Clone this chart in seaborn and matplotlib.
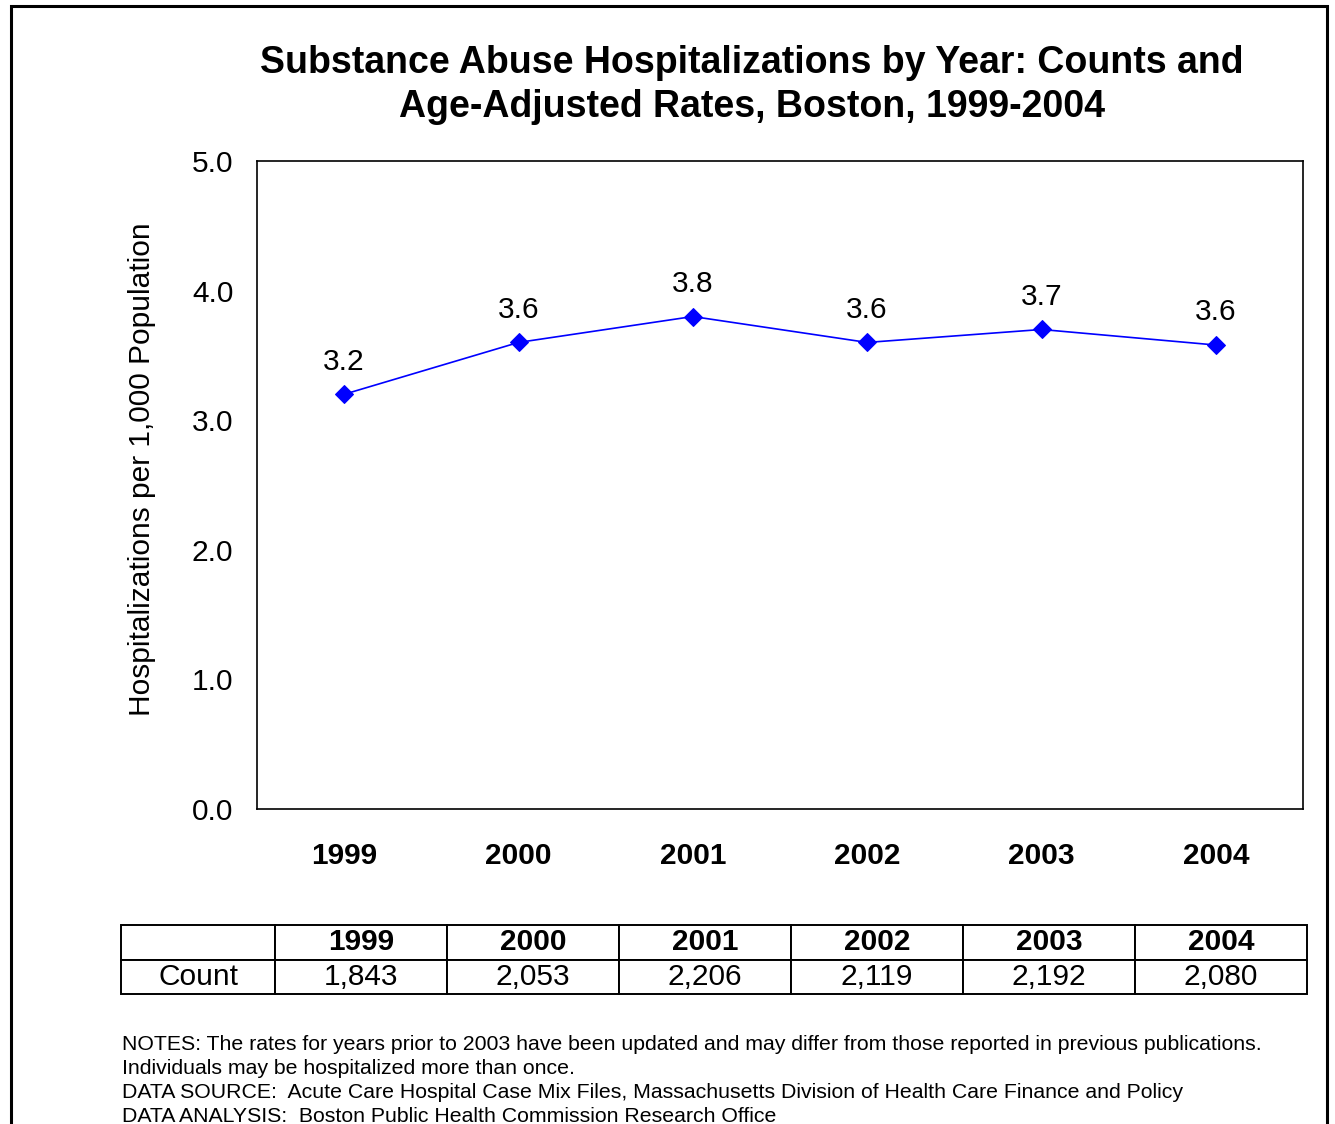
import numpy as np
import pandas as pd
import seaborn as sns
import matplotlib.pyplot as plt
from matplotlib.patches import Rectangle
from matplotlib.ticker import FixedLocator

years = ["1999", "2000", "2001", "2002", "2003", "2004"]
rates = [3.2, 3.6, 3.8, 3.6, 3.7, 3.58]
rate_labels = ["3.2", "3.6", "3.8", "3.6", "3.7", "3.6"]
counts = ["1,843", "2,053", "2,206", "2,119", "2,192", "2,080"]

title = ("Substance Abuse Hospitalizations by Year: Counts and\n"
         "Age-Adjusted Rates, Boston, 1999-2004")
notes = [
    "NOTES: The rates for years prior to 2003 have been updated and may differ from those reported in previous publications.",
    "Individuals may be hospitalized more than once.",
    "DATA SOURCE:  Acute Care Hospital Case Mix Files, Massachusetts Division of Health Care Finance and Policy",
    "DATA ANALYSIS:  Boston Public Health Commission Research Office",
]

sns.set_style("white")
plt.rcParams["font.family"] = ["Liberation Sans", "DejaVu Sans"]
plt.rcParams["text.color"] = "black"
plt.rcParams["axes.labelcolor"] = "black"

FS = 21.5

df = pd.DataFrame({"pos": np.arange(len(years)), "rate": rates})

fig = plt.figure(figsize=(13.35, 11.24), dpi=100)
fig.patch.set_facecolor("white")

# outer frame
fig.add_artist(Rectangle((11 / 1335, -0.05), (1327 - 11) / 1335, 1.05 - 6 / 1124,
                         transform=fig.transFigure, fill=False, edgecolor="black",
                         linewidth=2.2, clip_on=False))

ax = fig.add_axes([257 / 1335, 1 - 809 / 1124, (1303 - 257) / 1335, (809 - 161) / 1124])
sns.lineplot(data=df, x="pos", y="rate", ax=ax, color="#0000FF", linewidth=1.2,
             marker="D", markersize=9, markeredgecolor="#0000FF")

for i, (v, lab) in enumerate(zip(rates, rate_labels)):
    ax.annotate(lab, (i, v), xytext=(0, 23.5), textcoords="offset points",
                ha="center", va="center", fontsize=FS)

ax.set_xlim(-0.5, len(years) - 0.5)
ax.set_ylim(0, 5)
ax.set_yticks(np.arange(0, 5.01, 1))
ax.set_yticklabels([f"{t:.1f}" for t in np.arange(0, 5.01, 1)], fontsize=FS)
ax.set_xticks(range(len(years)))
ax.set_xticklabels(years, fontsize=FS, fontweight="bold")
ax.xaxis.set_minor_locator(FixedLocator(np.arange(-0.5, len(years), 1)))
ax.tick_params(axis="x", which="major", length=0, pad=24, labelcolor="black")
ax.tick_params(axis="x", which="minor", length=6, width=1, color="#808080", direction="out")
ax.tick_params(axis="y", length=6, width=1, color="#808080", direction="out", pad=11,
               labelcolor="black")
ax.set_xlabel("")
ax.set_ylabel("Hospitalizations per 1,000 Population", fontsize=FS, va="center")
ax.yaxis.set_label_coords(-0.11, 0.525)
for s in ax.spines.values():
    s.set_color("black")
    s.set_linewidth(1.2)

fig.text(752 / 1335, 1 - 85 / 1124, title, ha="center", va="center",
         fontsize=27, fontweight="bold", linespacing=1.3)

# count table
tax = fig.add_axes([121 / 1335, 1 - 994 / 1124, (1307 - 121) / 1335, (994 - 925) / 1124])
tax.axis("off")
cells = [[""] + years, ["Count"] + counts]
first_w = 154 / (1307 - 121)
other_w = (1 - first_w) / len(years)
tbl = tax.table(cellText=cells, cellLoc="center", bbox=[0, 0, 1, 1],
                colWidths=[first_w] + [other_w] * len(years))
tbl.auto_set_font_size(False)
for (r, c), cell in tbl.get_celld().items():
    cell.set_linewidth(1.4)
    cell.set_edgecolor("black")
    cell.get_text().set_fontsize(FS)
    cell.get_text().set_color("black")
    if r == 0:
        cell.get_text().set_fontweight("bold")

for k, line in enumerate(notes):
    fig.text(122 / 1335, 1 - (1045 + k * 24) / 1124, line, ha="left", va="center",
             fontsize=15.3)

fig.savefig("out.png", dpi=100)
